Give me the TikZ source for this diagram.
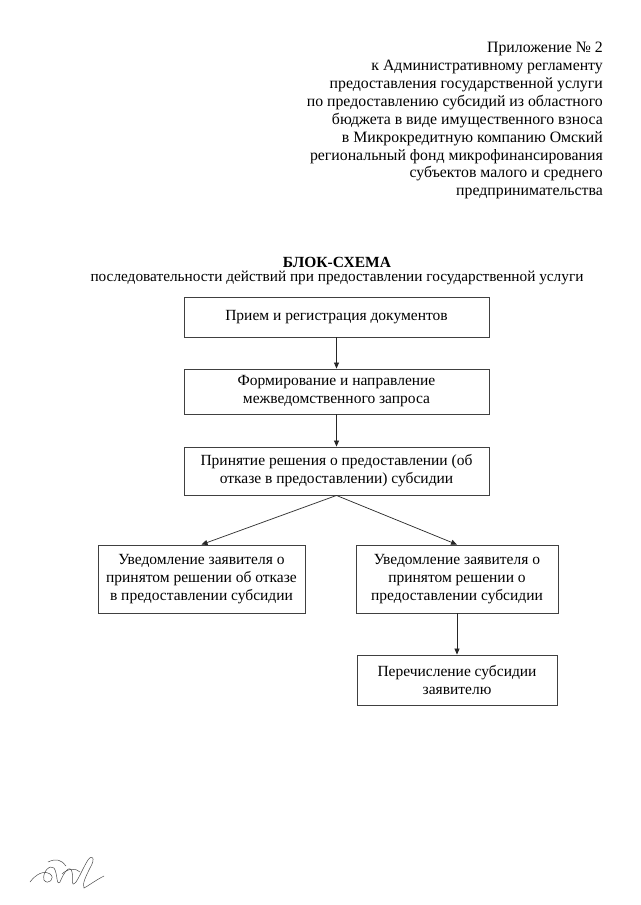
\documentclass[tikz,border=0pt]{standalone}
\usepackage{fontspec}
\setmainfont{Liberation Serif}
\usetikzlibrary{arrows.meta}
\tikzset{
  boxnode/.style={draw=black!75, line width=0.9pt, inner sep=0pt, align=center, font=\fs},
  arr/.style={draw=black!85, line width=0.7pt, -{Triangle[length=6pt,width=5pt]}},
}
\newcommand{\fs}{\fontsize{15.5}{18}\selectfont}
\begin{document}
\begin{tikzpicture}[x=1pt,y=-1pt]
\useasboundingbox[fill=white] (0,0) rectangle (640,905);
% header
\node[anchor=north east, align=right, inner sep=0pt, font=\fontsize{15.8}{17.9}\selectfont] (hdr) at (603,42)
 {Приложение № 2\\
 к Административному регламенту\\
 предоставления государственной услуги\\
 по предоставлению субсидий из областного\\
 бюджета в виде имущественного взноса\\
 в Микрокредитную компанию Омский\\
 региональный фонд микрофинансирования\\
 субъектов малого и среднего\\
 предпринимательства};
% title
\node[font=\fs\bfseries, inner sep=0pt] (ttl) at (337,262) {БЛОК-СХЕМА};
\node[font=\fontsize{15.3}{18}\selectfont, inner sep=0pt] (sub) at (337,278) {последовательности действий при предоставлении государственной услуги};
% boxes
\node[boxnode, minimum width=305, minimum height=40] (b1) at (336.5,317) {Прием и регистрация документов};
\node[boxnode, minimum width=305, minimum height=45] (b2) at (336.5,391.5) {Формирование и направление\\межведомственного запроса};
\node[boxnode, minimum width=305, minimum height=48] (b3) at (336.5,471) {Принятие решения о предоставлении (об\\отказе в предоставлении) субсидии};
\node[boxnode, minimum width=207, minimum height=68] (bl) at (201.5,579) {Уведомление заявителя о\\принятом решении об отказе\\в предоставлении субсидии};
\node[boxnode, minimum width=202, minimum height=68] (br) at (457,579) {Уведомление заявителя о\\принятом решении о\\предоставлении субсидии};
\node[boxnode, minimum width=200, minimum height=50] (b6) at (457,680) {Перечисление субсидии\\заявителю};
% connectors
\draw[arr] (b1.south) -- (b2.north);
\draw[arr] (b2.south) -- (b3.north);
\draw[arr] (b3.south) -- (bl.north);
\draw[arr] (b3.south) -- (br.north);
\draw[arr] (br.south) -- (b6.north);
% signature
\draw[black!70, line width=0.5pt, line cap=round]
 (30,882) .. controls (36,874) and (44,870) .. (50,874)
 .. controls (56,878) and (48,886) .. (44,880)
 .. controls (42,872) and (50,864) .. (54,868)
 .. controls (58,874) and (56,886) .. (60,882)
 .. controls (64,872) and (70,864) .. (72,872)
 .. controls (74,880) and (70,888) .. (76,882)
 .. controls (80,876) and (84,866) .. (88,860)
 .. controls (92,854) and (96,858) .. (90,868)
 .. controls (86,876) and (82,884) .. (84,888)
 .. controls (88,886) and (96,880) .. (104,876);
\draw[black!70, line width=0.5pt, line cap=round]
 (48,862) .. controls (56,858) and (62,860) .. (66,866)
 (62,874) .. controls (68,868) and (76,868) .. (80,872);
\end{tikzpicture}
\end{document}
